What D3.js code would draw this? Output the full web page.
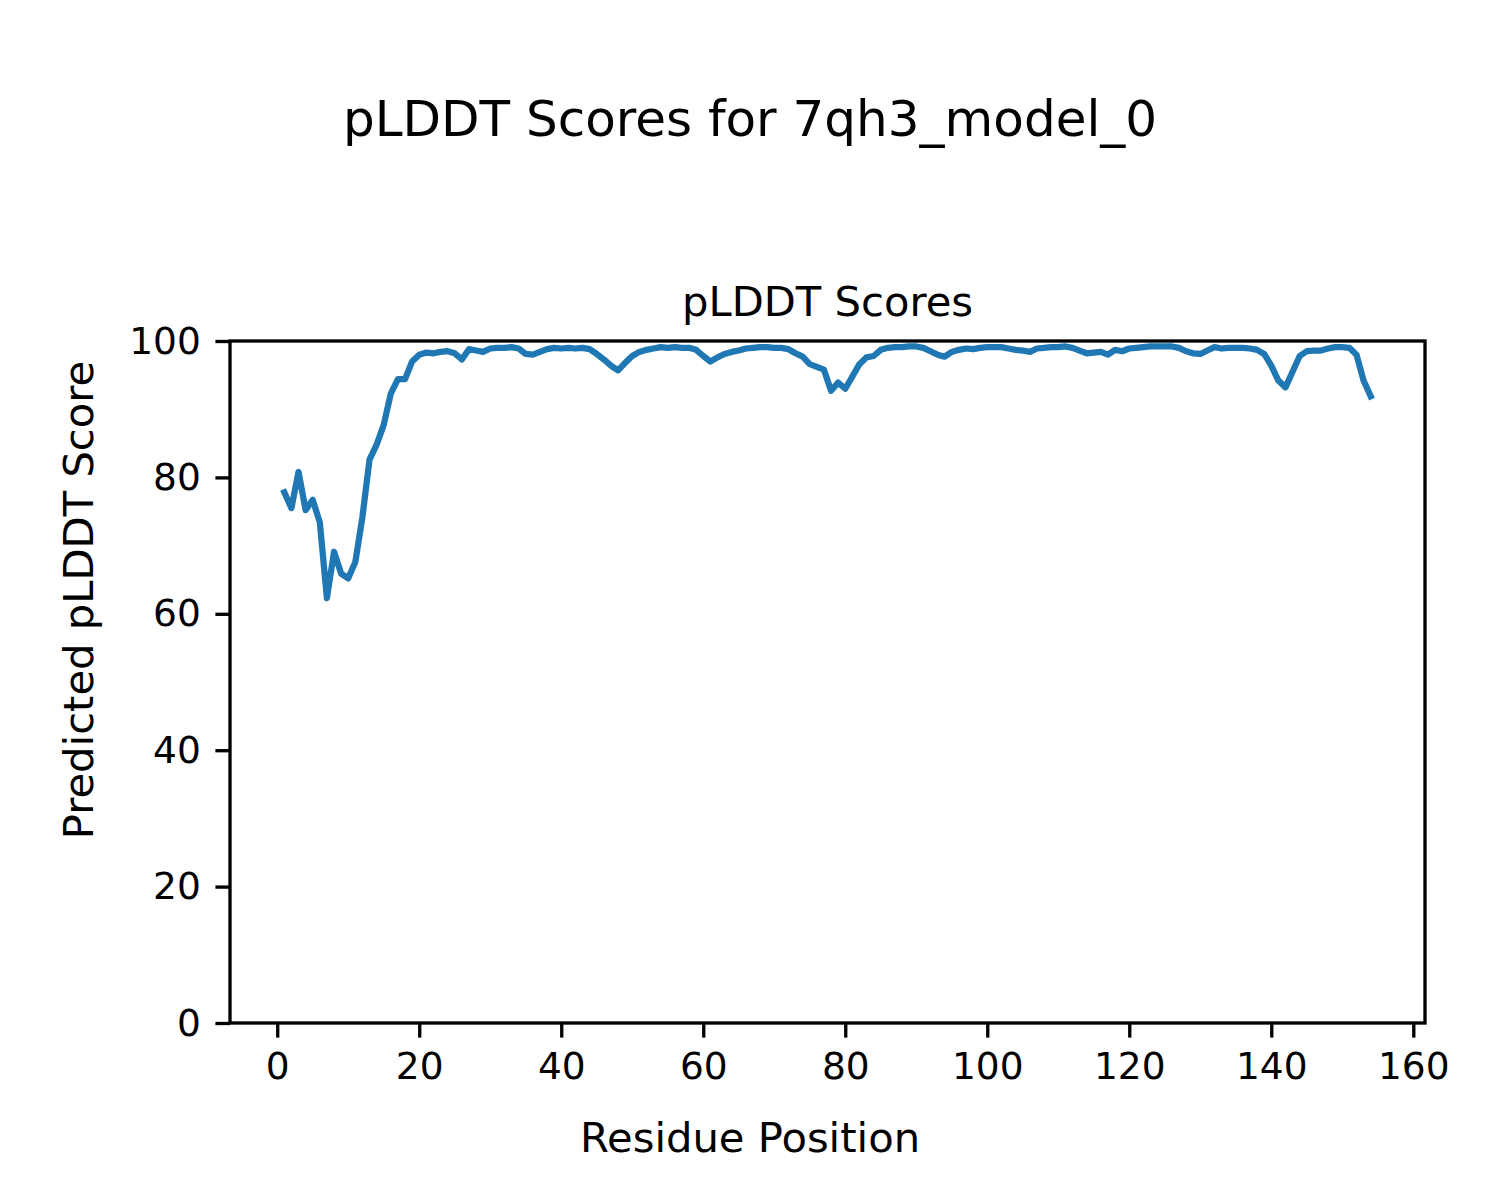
<!DOCTYPE html>
<html>
<head>
<meta charset="utf-8">
<script src="https://cdn.jsdelivr.net/npm/d3@7"></script>
<style>
  html, body { margin: 0; padding: 0; background: #fff; }
  text { font-family: "DejaVu Sans", sans-serif; fill: #000; }
</style>
</head>
<body>
<svg id="chart" width="1500" height="1200"></svg>
<script>
const figTitle = "pLDDT Scores for 7qh3_model_0";
const axTitle = "pLDDT Scores";
const xLabel = "Residue Position";
const yLabel = "Predicted pLDDT Score";

const plddt = [
  77.8, 75.5, 80.8, 75.2, 76.7, 73.4, 62.3, 69.1, 65.9, 65.2,
  67.6, 74.2, 82.6, 84.8, 87.7, 92.3, 94.4, 94.4, 97.0, 98.0,
  98.3, 98.2, 98.4, 98.5, 98.2, 97.3, 98.8, 98.6, 98.4, 98.9,
  99.0, 99.0, 99.1, 98.9, 98.1, 98.0, 98.4, 98.8, 99.0, 98.9,
  99.0, 98.9, 99.0, 98.8, 98.1, 97.3, 96.4, 95.7, 96.8, 97.8,
  98.4, 98.7, 98.9, 99.1, 99.0, 99.1, 99.0, 99.0, 98.7, 97.8,
  97.0, 97.6, 98.1, 98.4, 98.6, 98.9, 99.0, 99.1, 99.1, 99.0,
  99.0, 98.8, 98.2, 97.7, 96.6, 96.2, 95.8, 92.7, 93.9, 93.0,
  94.8, 96.6, 97.6, 97.8, 98.7, 99.0, 99.1, 99.1, 99.2, 99.2,
  99.0, 98.5, 98.0, 97.7, 98.4, 98.7, 98.9, 98.8, 99.0, 99.1,
  99.1, 99.1, 98.9, 98.7, 98.6, 98.4, 98.9, 99.0, 99.1, 99.1,
  99.2, 99.0, 98.6, 98.2, 98.3, 98.4, 98.0, 98.7, 98.5, 98.9,
  99.0, 99.1, 99.2, 99.2, 99.2, 99.2, 99.0, 98.5, 98.2, 98.1,
  98.6, 99.1, 98.9, 99.0, 99.0, 99.0, 98.9, 98.7, 98.1, 96.4,
  94.2, 93.2, 95.5, 97.8, 98.5, 98.6, 98.6, 98.9, 99.1, 99.1,
  99.0, 98.0, 94.2, 91.9
];
const residues = d3.range(1, plddt.length + 1);
const xTicks = [0, 20, 40, 60, 80, 100, 120, 140, 160];
const yTicks = [0, 20, 40, 60, 80, 100];

(function () {
  const svg = d3.select("#chart");
  const W = 1500, H = 1200;
  const mL = 230, mR = 1425, mT = 341, mB = 1023;
  const tickLen = 14.6, tickPad = 14.6, spineW = 3.33;
  const tickFont = 37.5, labelFont = 41.7, titleFont = 50;

  const xMin = d3.min(residues), xMax = d3.max(residues);
  const pad = (xMax - xMin) * 0.05;
  const x = d3.scaleLinear().domain([xMin - pad, xMax + pad]).range([mL, mR]);
  const y = d3.scaleLinear().domain([0, 100]).range([mB, mT]);

  svg.append("rect").attr("width", W).attr("height", H).attr("fill", "#fff");

  const line = d3.line().x((d, i) => x(residues[i])).y(d => y(d));
  svg.append("path")
    .datum(plddt)
    .attr("d", line)
    .attr("fill", "none")
    .attr("stroke", "#1f77b4")
    .attr("stroke-width", 6.25)
    .attr("stroke-linejoin", "round")
    .attr("stroke-linecap", "square");

  const xAxis = d3.axisBottom(x).tickValues(xTicks).tickSize(tickLen).tickPadding(tickPad).tickSizeOuter(0);
  const yAxis = d3.axisLeft(y).tickValues(yTicks).tickSize(tickLen).tickPadding(tickPad).tickSizeOuter(0);

  const gx = svg.append("g").attr("transform", `translate(0,${mB})`).call(xAxis);
  const gy = svg.append("g").attr("transform", `translate(${mL},0)`).call(yAxis);
  [gx, gy].forEach(g => {
    g.select(".domain").remove();
    g.selectAll(".tick line").attr("stroke", "#000").attr("stroke-width", spineW);
    g.selectAll(".tick text")
      .style("font-family", "DejaVu Sans, sans-serif")
      .style("font-size", tickFont + "px")
      .attr("fill", "#000");
  });

  svg.append("rect")
    .attr("x", mL).attr("y", mT)
    .attr("width", mR - mL).attr("height", mB - mT)
    .attr("fill", "none").attr("stroke", "#000").attr("stroke-width", spineW);

  svg.append("text")
    .attr("x", W / 2).attr("y", 136)
    .attr("text-anchor", "middle")
    .style("font-size", titleFont + "px")
    .text(figTitle);

  svg.append("text")
    .attr("x", (mL + mR) / 2).attr("y", 316)
    .attr("text-anchor", "middle")
    .style("font-size", labelFont + "px")
    .text(axTitle);

  svg.append("text")
    .attr("x", W / 2).attr("y", 1152)
    .attr("text-anchor", "middle")
    .style("font-size", labelFont + "px")
    .text(xLabel);

  svg.append("text")
    .attr("transform", `translate(93,${H / 2}) rotate(-90)`)
    .attr("text-anchor", "middle")
    .style("font-size", labelFont + "px")
    .text(yLabel);
})();
</script>
</body>
</html>
